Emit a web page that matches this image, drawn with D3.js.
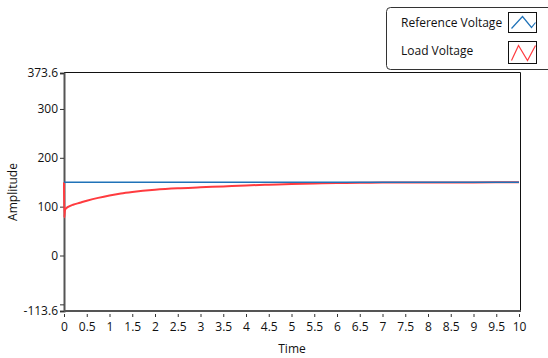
<!DOCTYPE html>
<html>
<head>
<meta charset="utf-8">
<script src="https://cdn.jsdelivr.net/npm/d3@7"></script>
<style>
  body { margin: 0; background: #fff; }
  text { font-family: "Open Sans", "Noto Sans", sans-serif; fill: #111; }
</style>
</head>
<body>
<div id="container"></div>
<script>
// Data
const seriesNames = ["Reference Voltage", "Load Voltage"];
const refTime = [0, 10];
const refValues = [150, 150];
const loadTime = [0, 0.005, 0.02, 0.05, 0.1, 0.2, 0.35, 0.5, 0.75, 1, 1.25, 1.5, 2, 2.5, 3, 3.5, 4, 4.5, 5, 5.5, 6, 6.5, 7, 8, 9, 10];
const loadValues = [150, 78, 92, 97, 100, 104, 108, 112, 118, 123, 127, 130, 134.5, 137.5, 139.5, 141.5, 143.5, 145, 146.5, 147.5, 148.3, 148.8, 149.2, 149.5, 149.7, 150];
const xTicks = [0, 0.5, 1, 1.5, 2, 2.5, 3, 3.5, 4, 4.5, 5, 5.5, 6, 6.5, 7, 7.5, 8, 8.5, 9, 9.5, 10];
const yTicks = [-113.6, -100, 0, 100, 200, 300, 373.6];
const yLabels = ["-113.6", "", "0", "100", "200", "300", "373.6"];

const colors = ["#1f72b8", "#ff3b3f"];

const width = 548, height = 358;
const plot = {left: 64, right: 520, top: 73, bottom: 311};

const svg = d3.select("#container").append("svg")
    .attr("width", width)
    .attr("height", height);

const x = d3.scaleLinear().domain([0, 10]).range([plot.left, 519]);
const y = d3.scaleLinear().domain([-113.6, 373.6]).range([plot.bottom, plot.top]);

// plot frame (top / right)
svg.append("path")
    .attr("d", `M${plot.left},${plot.top - 0.5}H${plot.right + 0.5}V${plot.bottom}`)
    .attr("fill", "none")
    .attr("stroke", "#111")
    .attr("stroke-width", 1);

// y axis
const yAxis = svg.append("g")
    .attr("transform", `translate(${plot.left},0)`)
    .call(d3.axisLeft(y).tickValues(yTicks).tickSize(4).tickPadding(2)
        .tickFormat((d, i) => yLabels[i]));
yAxis.select(".domain").attr("stroke", "#555").attr("stroke-width", 2);
yAxis.selectAll(".tick line").attr("stroke", "#333");
yAxis.selectAll(".tick text").style("font-size", "12px");

// x axis
const xAxis = svg.append("g")
    .attr("transform", `translate(0,${plot.bottom})`)
    .call(d3.axisBottom(x).tickValues(xTicks).tickSize(5).tickPadding(6)
        .tickFormat(d => d3.format("~g")(d)));
xAxis.select(".domain").attr("stroke", "#555").attr("stroke-width", 2)
    .attr("d", `M${plot.left},0H${plot.right + 1}`);
xAxis.selectAll(".tick line").attr("stroke", "#333").attr("y1", 3).attr("y2", 6);
xAxis.selectAll(".tick text").style("font-size", "12px");

// axis titles
svg.append("text")
    .attr("transform", `translate(17,${(plot.top + plot.bottom) / 2}) rotate(-90)`)
    .attr("text-anchor", "middle")
    .style("font-size", "12px")
    .text("Amplitude");

svg.append("text")
    .attr("x", (plot.left + plot.right) / 2)
    .attr("y", 353)
    .attr("text-anchor", "middle")
    .style("font-size", "12px")
    .text("Time");

// lines
const line = d3.line()
    .x(d => x(d[0]))
    .y(d => y(d[1]))
    .curve(d3.curveMonotoneX);

svg.append("path")
    .datum(loadTime.map((t, i) => [t, loadValues[i]]))
    .attr("d", line)
    .attr("fill", "none")
    .attr("stroke", colors[1])
    .attr("stroke-width", 2);

svg.append("path")
    .datum(refTime.map((t, i) => [t, refValues[i]]))
    .attr("d", line)
    .attr("fill", "none")
    .attr("stroke", colors[0])
    .attr("stroke-width", 1.5);

// legend
const legend = svg.append("g");
legend.append("rect")
    .attr("x", 386.5).attr("y", 7.5)
    .attr("width", 180).attr("height", 62)
    .attr("rx", 4)
    .attr("fill", "#fff")
    .attr("stroke", "#333");

const icons = [
    { y: 12.5, h: 20, pts: [[3, 16], [14, 4], [23, 15], [27, 10]] },
    { y: 41.5, h: 22, pts: [[3, 19], [10, 4], [19, 19], [27, 4]] }
];

seriesNames.forEach((name, i) => {
    const rowY = [27, 55][i];
    legend.append("text")
        .attr("x", 401)
        .attr("y", rowY)
        .style("font-size", "12px")
        .text(name);
    const ic = icons[i];
    legend.append("rect")
        .attr("x", 508.5).attr("y", ic.y)
        .attr("width", 28).attr("height", ic.h)
        .attr("fill", "#fff")
        .attr("stroke", "#111");
    legend.append("path")
        .attr("d", d3.line()(ic.pts.map(p => [508.5 + p[0], ic.y + p[1]])))
        .attr("fill", "none")
        .attr("stroke", colors[i])
        .attr("stroke-width", 1.2);
});
</script>
</body>
</html>
